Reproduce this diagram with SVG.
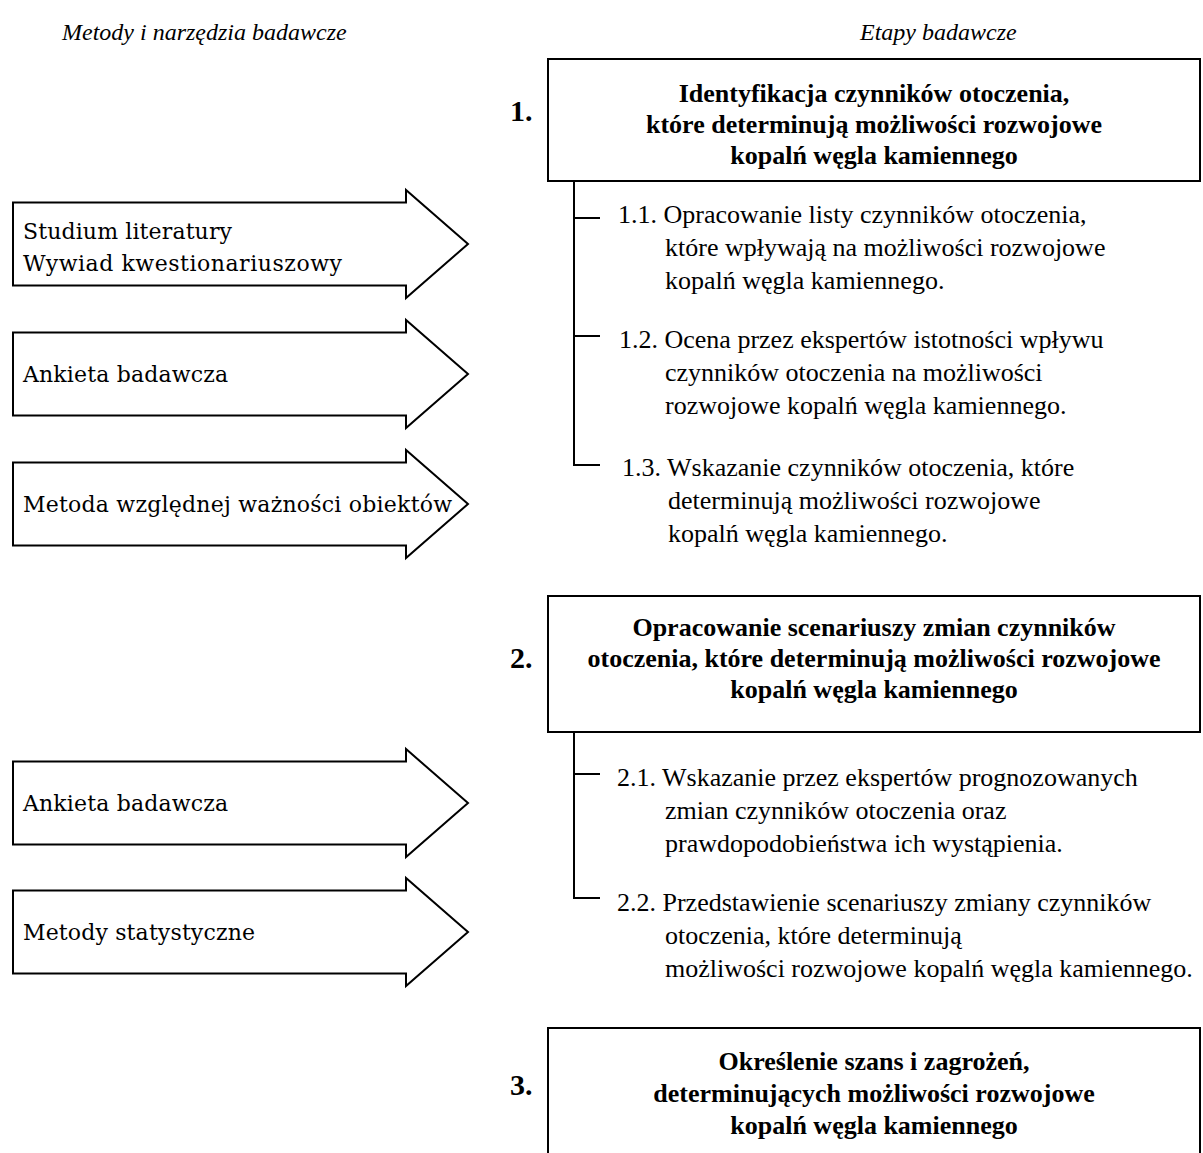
<svg xmlns="http://www.w3.org/2000/svg" width="1203" height="1153" viewBox="0 0 1203 1153">
<style>
.hdr{font-family:"Liberation Serif",serif;font-style:italic;font-size:24px;fill:#000}
.box{fill:#fff;stroke:#000;stroke-width:2}
.bt{font-family:"Liberation Serif",serif;font-weight:bold;font-size:26px;text-anchor:middle;fill:#000}
.num{font-family:"Liberation Serif",serif;font-weight:bold;font-size:30px;fill:#000}
.st{font-family:"Liberation Serif",serif;font-size:26px;fill:#000}
.arr{fill:#fff;stroke:#000;stroke-width:2;stroke-linejoin:miter}
.at{font-family:"DejaVu Serif",serif;font-size:22px;fill:#000}
.ln{stroke:#000;stroke-width:2;fill:none}
</style>
<rect width="1203" height="1153" fill="#fff"/>
<g id="headers">
<text class="hdr" x="62" y="40">Metody i narzędzia badawcze</text>
<text class="hdr" x="860" y="40">Etapy badawcze</text>
</g>
<g id="method1">
<polygon class="arr" points="13,202.5 406,202.5 406,190 468,244 406,298 406,285.5 13,285.5"/>
<text class="at" x="23" y="239" textLength="209">Studium literatury</text>
<text class="at" x="23" y="271" textLength="319">Wywiad kwestionariuszowy</text>
</g>
<g id="method2">
<polygon class="arr" points="13,332.5 406,332.5 406,320 468,374 406,428 406,415.5 13,415.5"/>
<text class="at" x="23" y="382" textLength="205">Ankieta badawcza</text>
</g>
<g id="method3">
<polygon class="arr" points="13,462.5 406,462.5 406,450 468,504 406,558 406,545.5 13,545.5"/>
<text class="at" x="23" y="512" textLength="429">Metoda względnej ważności obiektów</text>
</g>
<g id="method4">
<polygon class="arr" points="13,761.5 406,761.5 406,749 468,803 406,857 406,844.5 13,844.5"/>
<text class="at" x="23" y="811" textLength="205">Ankieta badawcza</text>
</g>
<g id="method5">
<polygon class="arr" points="13,890.5 406,890.5 406,878 468,932 406,986 406,973.5 13,973.5"/>
<text class="at" x="23" y="940" textLength="232">Metody statystyczne</text>
</g>
<g id="connectors">
<path class="ln" d="M574,181 V465 H600 M574,218 H600 M574,336 H600"/>
<path class="ln" d="M574,732 V898 H600 M574,774 H600"/>
</g>
<g id="stage1">
<text class="num" x="510" y="121">1.</text>
<rect class="box" x="548" y="59" width="652" height="122"/>
<text class="bt" x="874" y="102">Identyfikacja czynników otoczenia,</text>
<text class="bt" x="874" y="133">które determinują możliwości rozwojowe</text>
<text class="bt" x="874" y="164">kopalń węgla kamiennego</text>
</g>
<g id="step1-1">
<text class="st" x="618" y="223">1.1. Opracowanie listy czynników otoczenia,</text>
<text class="st" x="665" y="256">które wpływają na możliwości rozwojowe</text>
<text class="st" x="665" y="289">kopalń węgla kamiennego.</text>
</g>
<g id="step1-2">
<text class="st" x="619" y="348">1.2. Ocena przez ekspertów istotności wpływu</text>
<text class="st" x="665" y="381">czynników otoczenia na możliwości</text>
<text class="st" x="665" y="414">rozwojowe kopalń węgla kamiennego.</text>
</g>
<g id="step1-3">
<text class="st" x="622" y="476">1.3. Wskazanie czynników otoczenia, które</text>
<text class="st" x="668" y="509">determinują możliwości rozwojowe</text>
<text class="st" x="668" y="542">kopalń węgla kamiennego.</text>
</g>
<g id="stage2">
<text class="num" x="510" y="668">2.</text>
<rect class="box" x="548" y="596" width="652" height="136"/>
<text class="bt" x="874" y="636">Opracowanie scenariuszy zmian czynników</text>
<text class="bt" x="874" y="667">otoczenia, które determinują możliwości rozwojowe</text>
<text class="bt" x="874" y="698">kopalń węgla kamiennego</text>
</g>
<g id="step2-1">
<text class="st" x="617" y="786">2.1. Wskazanie przez ekspertów prognozowanych</text>
<text class="st" x="665" y="819">zmian czynników otoczenia oraz</text>
<text class="st" x="665" y="852">prawdopodobieństwa ich wystąpienia.</text>
</g>
<g id="step2-2">
<text class="st" x="617" y="911">2.2. Przedstawienie scenariuszy zmiany czynników</text>
<text class="st" x="665" y="944">otoczenia, które determinują</text>
<text class="st" x="665" y="977">możliwości rozwojowe kopalń węgla kamiennego.</text>
</g>
<g id="stage3">
<text class="num" x="510" y="1095">3.</text>
<rect class="box" x="548" y="1028" width="652" height="150"/>
<text class="bt" x="874" y="1070">Określenie szans i zagrożeń,</text>
<text class="bt" x="874" y="1102">determinujących możliwości rozwojowe</text>
<text class="bt" x="874" y="1134">kopalń węgla kamiennego</text>
</g>
</svg>
